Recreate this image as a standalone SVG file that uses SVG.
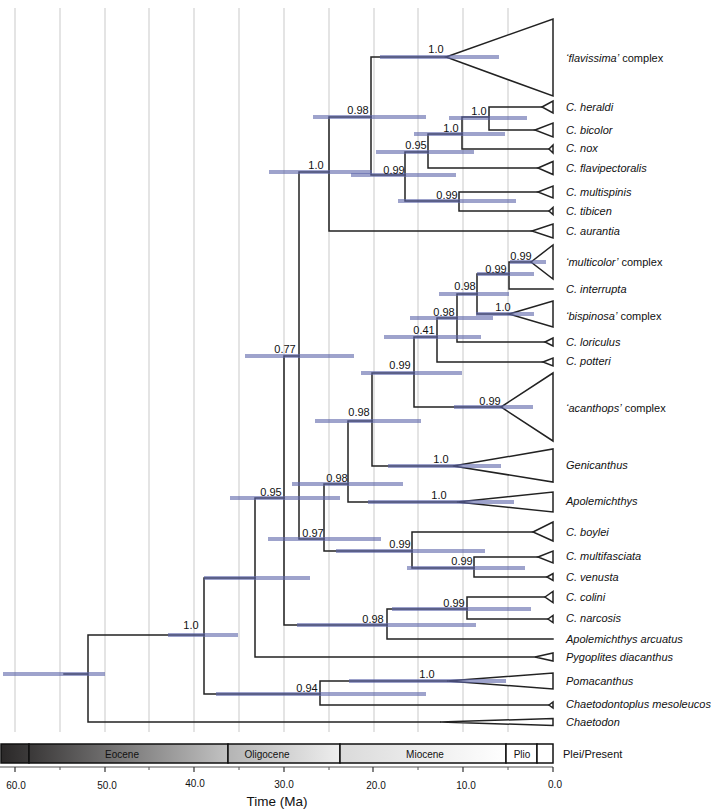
<svg xmlns="http://www.w3.org/2000/svg" width="711" height="810" viewBox="0 0 711 810">
<style>
.grid{stroke:#dcdcdc;stroke-width:1.5;fill:none}
.edge{stroke:#222;stroke-width:1.5;fill:none;stroke-linecap:square}
.tri{fill:#fff;stroke:#222;stroke-width:1.5;stroke-linejoin:miter}
.hpd{stroke:#5d66aa;stroke-opacity:0.6;stroke-width:4;fill:none}
.sup{font-family:"Liberation Sans",Arial,sans-serif;font-size:11px;fill:#111;text-anchor:middle}
.tax{font-family:"Liberation Sans",Arial,sans-serif;font-size:11px;fill:#111}
.it{font-style:italic}
.ep{font-family:"Liberation Sans",Arial,sans-serif;font-size:10px;fill:#111;text-anchor:middle}
.tk{font-family:"Liberation Sans",Arial,sans-serif;font-size:10px;fill:#111;text-anchor:middle}
.epb{stroke:#111;stroke-width:1.5}
</style>
<defs>
<linearGradient id="gPal" x1="0" x2="1" y1="0" y2="0"><stop offset="0" stop-color="#2a2828"/><stop offset="1" stop-color="#3c3a3a"/></linearGradient>
<linearGradient id="gEo" x1="0" x2="1" y1="0" y2="0"><stop offset="0" stop-color="#3a3838"/><stop offset="1" stop-color="#c2c2c2"/></linearGradient>
<linearGradient id="gOl" x1="0" x2="1" y1="0" y2="0"><stop offset="0" stop-color="#b4b4b4"/><stop offset="1" stop-color="#eeeeee"/></linearGradient>
<linearGradient id="gMi" x1="0" x2="1" y1="0" y2="0"><stop offset="0" stop-color="#dadada"/><stop offset="1" stop-color="#ffffff"/></linearGradient>
</defs>

<g id="gridlines">
<path class="grid" d="M15 8V732M60 8V732M105 8V732M149 8V732M194 8V732M239 8V732M284 8V732M329 8V732M374 8V732M418 8V732M463 8V732M508 8V732"/>
</g>

<g id="connectors">
<path class="edge" d="M64 674H88M88 635V722M88 635H204M88 722H440"/>
<path class="edge" d="M204 578V694H320M204 578H255"/>
<path class="edge" d="M255 498V657H535M255 498H284"/>
<path class="edge" d="M284 356V625H387M284 356H299"/>
<path class="edge" d="M299 172V539H324M299 172H329"/>
<path class="edge" d="M329 117V231H532M329 117H371"/>
<path class="edge" d="M371 57V175H405M371 57H446"/>
<path class="edge" d="M405 152V201H459M405 152H428"/>
<path class="edge" d="M428 134V168H538M428 134H462"/>
<path class="edge" d="M462 117V149H549M462 117H489"/>
<path class="edge" d="M489 107V130H535M489 107H542"/>
<path class="edge" d="M459 192V211H549M459 192H538"/>
<path class="edge" d="M324 484V551H412M324 484H348"/>
<path class="edge" d="M348 421V502H457M348 421H372"/>
<path class="edge" d="M372 373V466H453M372 373H414"/>
<path class="edge" d="M414 337V407H501M414 337H437"/>
<path class="edge" d="M437 318V362H543M437 318H457"/>
<path class="edge" d="M457 294V342H545M457 294H477"/>
<path class="edge" d="M477 274V314H509M477 274H509"/>
<path class="edge" d="M509 262V289H553M509 262H531"/>
<path class="edge" d="M412 532V568H474M412 532H533"/>
<path class="edge" d="M474 557V577H547M474 557H538"/>
<path class="edge" d="M387 609V639H553M387 609H467"/>
<path class="edge" d="M467 597V619H548M467 597H545"/>
<path class="edge" d="M320 681V705H549M320 681H447"/>
</g>

<!-- tips -->
<g id="t-flavissima"><polygon class="tri" points="446,57 553,19 553,96"/><text class="tax" x="566" y="62"><tspan class="it">‘flavissima’</tspan> complex</text></g>
<g id="t-heraldi"><polygon class="tri" points="542,107 553,101 553,113"/><text class="tax it" x="566" y="111">C. heraldi</text></g>
<g id="t-bicolor"><polygon class="tri" points="535,130 553,123 553,137"/><text class="tax it" x="566" y="134">C. bicolor</text></g>
<g id="t-nox"><polygon class="tri" points="549,149 553,145 553,153"/><text class="tax it" x="566" y="152">C. nox</text></g>
<g id="t-flavipectoralis"><polygon class="tri" points="538,168 553,161.5 553,174.5"/><text class="tax it" x="566" y="172">C. flavipectoralis</text></g>
<g id="t-multispinis"><polygon class="tri" points="538,192 553,186 553,198"/><text class="tax it" x="566" y="196">C. multispinis</text></g>
<g id="t-tibicen"><polygon class="tri" points="549,211 553,207.5 553,214.5"/><text class="tax it" x="566" y="215">C. tibicen</text></g>
<g id="t-aurantia"><polygon class="tri" points="532,231 553,224 553,238"/><text class="tax it" x="566" y="235">C. aurantia</text></g>
<g id="t-multicolor"><polygon class="tri" points="531,262 553,245 553,279"/><text class="tax" x="566" y="266"><tspan class="it">‘multicolor’</tspan> complex</text></g>
<g id="t-interrupta"><text class="tax it" x="566" y="293">C. interrupta</text></g>
<g id="t-bispinosa"><polygon class="tri" points="509,314 553,301 553,327"/><text class="tax" x="566" y="320"><tspan class="it">‘bispinosa’</tspan> complex</text></g>
<g id="t-loriculus"><polygon class="tri" points="545,342 553,338 553,346"/><text class="tax it" x="566" y="346">C. loriculus</text></g>
<g id="t-potteri"><polygon class="tri" points="543,362 553,358 553,366"/><text class="tax it" x="566" y="365">C. potteri</text></g>
<g id="t-acanthops"><polygon class="tri" points="501,407 553,373 553,441"/><text class="tax" x="566" y="412"><tspan class="it">‘acanthops’</tspan> complex</text></g>
<g id="t-genicanthus"><polygon class="tri" points="453,466 553,449 553,482"/><text class="tax it" x="566" y="469">Genicanthus</text></g>
<g id="t-apolemichthys"><polygon class="tri" points="457,502 553,492 553,512"/><text class="tax it" x="566" y="505">Apolemichthys</text></g>
<g id="t-boylei"><polygon class="tri" points="533,532 553,522 553,541"/><text class="tax it" x="566" y="536">C. boylei</text></g>
<g id="t-multifasciata"><polygon class="tri" points="538,557 553,551 553,563"/><text class="tax it" x="566" y="560">C. multifasciata</text></g>
<g id="t-venusta"><polygon class="tri" points="547,577 553,573.5 553,580.5"/><text class="tax it" x="566" y="581">C. venusta</text></g>
<g id="t-colini"><polygon class="tri" points="545,597 553,591.5 553,602.5"/><text class="tax it" x="566" y="601">C. colini</text></g>
<g id="t-narcosis"><polygon class="tri" points="548,619 553,615.5 553,622.5"/><text class="tax it" x="566" y="622">C. narcosis</text></g>
<g id="t-arcuatus"><text class="tax it" x="566" y="643">Apolemichthys arcuatus</text></g>
<g id="t-pygoplites"><polygon class="tri" points="535,657 553,653 553,661"/><text class="tax it" x="566" y="661">Pygoplites diacanthus</text></g>
<g id="t-pomacanthus"><polygon class="tri" points="447,681 553,673 553,689"/><text class="tax it" x="566" y="685">Pomacanthus</text></g>
<g id="t-chaetodontoplus"><polygon class="tri" points="549,705 553,702 553,708"/><text class="tax it" x="566" y="708">Chaetodontoplus mesoleucos</text></g>
<g id="t-chaetodon"><polygon class="tri" points="440,722 553,718.5 553,725.5"/><text class="tax it" x="566" y="726">Chaetodon</text></g>

<!-- internal nodes: HPD bar + support -->
<g id="n-root"><path class="hpd" d="M3 674H105"/></g>
<g id="n-X"><path class="hpd" d="M168 635H238"/><text class="sup" x="191" y="628.5">1.0</text></g>
<g id="n-U"><path class="hpd" d="M204 578H310"/></g>
<g id="n-T"><path class="hpd" d="M230 498H340"/><text class="sup" x="271" y="496">0.95</text></g>
<g id="n-S"><path class="hpd" d="M245 356H354"/><text class="sup" x="285" y="352.5">0.77</text></g>
<g id="n-A"><path class="hpd" d="M269 172H372"/><text class="sup" x="316" y="169">1.0</text></g>
<g id="n-B"><path class="hpd" d="M313 117H426"/><text class="sup" x="358" y="114">0.98</text></g>
<g id="n-flav"><path class="hpd" d="M380 57H499"/><text class="sup" x="436" y="52.5">1.0</text></g>
<g id="n-C"><path class="hpd" d="M351 175H456"/><text class="sup" x="394" y="173.5">0.99</text></g>
<g id="n-D"><path class="hpd" d="M376 152H474"/><text class="sup" x="416" y="148.5">0.95</text></g>
<g id="n-F"><path class="hpd" d="M414 134H505"/><text class="sup" x="451" y="131.5">1.0</text></g>
<g id="n-G"><path class="hpd" d="M449 118H527"/><text class="sup" x="479" y="115">1.0</text></g>
<g id="n-E"><path class="hpd" d="M398 201H516"/><text class="sup" x="447" y="198.5">0.99</text></g>
<g id="n-P"><path class="hpd" d="M268 539H381"/><text class="sup" x="313" y="537">0.97</text></g>
<g id="n-N"><path class="hpd" d="M292 484H403"/><text class="sup" x="337" y="481.5">0.98</text></g>
<g id="n-apol"><path class="hpd" d="M368 502H514"/><text class="sup" x="439" y="499">1.0</text></g>
<g id="n-M"><path class="hpd" d="M315 421H421"/><text class="sup" x="359" y="416">0.98</text></g>
<g id="n-geni"><path class="hpd" d="M388 466H501"/><text class="sup" x="441" y="463">1.0</text></g>
<g id="n-L"><path class="hpd" d="M361 373H462"/><text class="sup" x="400" y="369">0.99</text></g>
<g id="n-acan"><path class="hpd" d="M454 407H533"/><text class="sup" x="490" y="405">0.99</text></g>
<g id="n-K"><path class="hpd" d="M384 337H481"/><text class="sup" x="424" y="334">0.41</text></g>
<g id="n-J"><path class="hpd" d="M410 318H493"/><text class="sup" x="444" y="316">0.98</text></g>
<g id="n-I"><path class="hpd" d="M439 294H509"/><text class="sup" x="465" y="290">0.98</text></g>
<g id="n-bisp"><path class="hpd" d="M476 314H534"/><text class="sup" x="503" y="311">1.0</text></g>
<g id="n-H"><path class="hpd" d="M477 274H534"/><text class="sup" x="496" y="272.5">0.99</text></g>
<g id="n-mult"><path class="hpd" d="M510 262H546"/><text class="sup" x="521" y="260">0.99</text></g>
<g id="n-Q"><path class="hpd" d="M336 551H485"/><text class="sup" x="400" y="548">0.99</text></g>
<g id="n-R"><path class="hpd" d="M407 568H525"/><text class="sup" x="462" y="565">0.99</text></g>
<g id="n-V"><path class="hpd" d="M297 625H476"/><text class="sup" x="373" y="622.5">0.98</text></g>
<g id="n-W"><path class="hpd" d="M392 609H531"/><text class="sup" x="454" y="606.5">0.99</text></g>
<g id="n-Y"><path class="hpd" d="M216 694H426"/><text class="sup" x="307" y="691.5">0.94</text></g>
<g id="n-poma"><path class="hpd" d="M349 681H506"/><text class="sup" x="427" y="678">1.0</text></g>

<!-- geological time scale -->
<g id="timescale">
<rect x="1" y="744" width="28" height="19" fill="url(#gPal)" class="epb"/>
<rect x="29" y="744" width="199" height="19" fill="url(#gEo)" class="epb"/>
<rect x="228" y="744" width="112" height="19" fill="url(#gOl)" class="epb"/>
<rect x="340" y="744" width="166" height="19" fill="url(#gMi)" class="epb"/>
<rect x="506" y="744" width="31" height="19" fill="#fff" class="epb"/>
<rect x="537" y="744" width="16" height="19" fill="#fff" class="epb"/>
<text class="ep" x="122" y="758">Eocene</text>
<text class="ep" x="267" y="758">Oligocene</text>
<text class="ep" x="425" y="758">Miocene</text>
<text class="ep" x="522" y="758">Plio</text>
<text class="tax" x="563" y="758" font-size="10px">Plei/Present</text>
</g>
<g id="axis">
<path d="M0 767H553" stroke="#555" stroke-width="1.2" fill="none"/>
<path d="M15 767V772M105 767V772M194 767V772M284 767V772M373 767V772M463 767V772M553 767V772" stroke="#333" stroke-width="1.2"/>
<path d="M60 767V770M149 767V770M239 767V770M329 767V770M418 767V770M508 767V770" stroke="#555" stroke-width="1"/>
<text class="tk" x="16" y="789">60.0</text>
<text class="tk" x="107" y="789">50.0</text>
<text class="tk" x="195" y="787">40.0</text>
<text class="tk" x="284" y="788">30.0</text>
<text class="tk" x="376" y="789">20.0</text>
<text class="tk" x="466" y="789">10.0</text>
<text class="tk" x="555" y="788">0.0</text>
<text x="277" y="806" font-family="Liberation Sans, Arial, sans-serif" font-size="13.5px" text-anchor="middle" fill="#111">Time (Ma)</text>
</g>
</svg>
